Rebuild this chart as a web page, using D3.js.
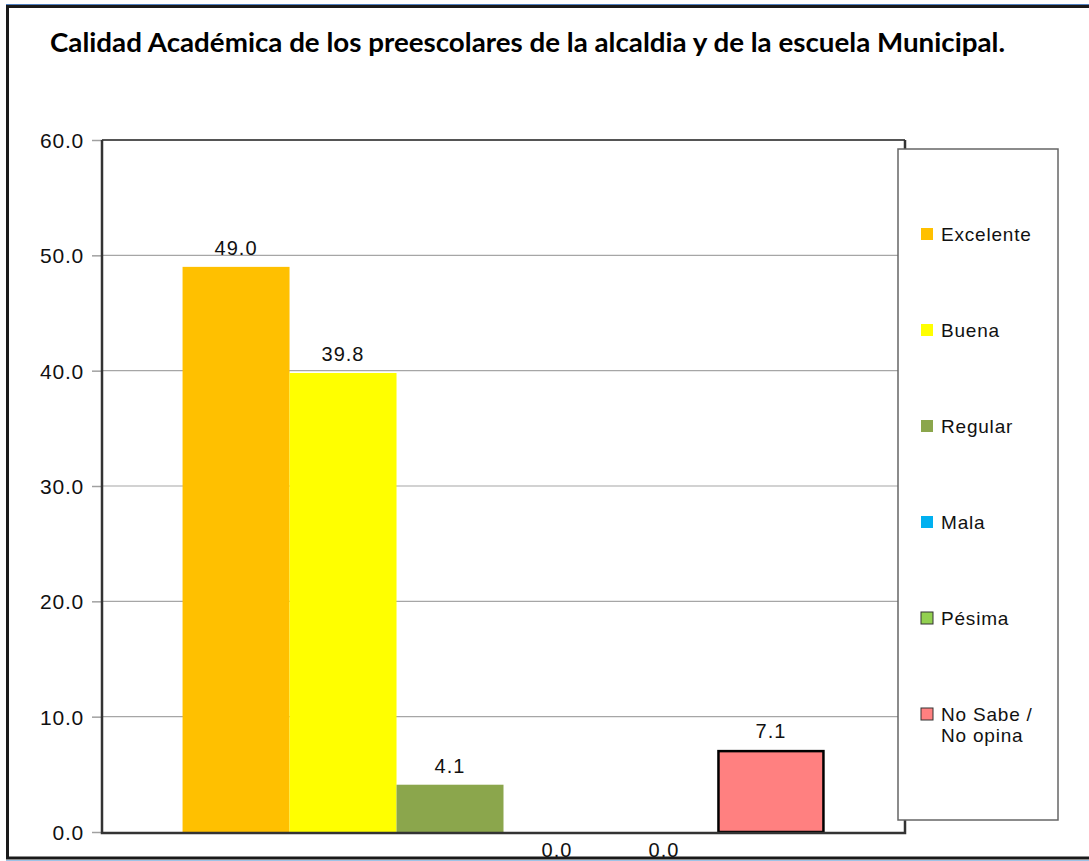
<!DOCTYPE html>
<html>
<head>
<meta charset="utf-8">
<script src="https://cdn.jsdelivr.net/npm/d3@7"></script>
<style>
  html, body { margin: 0; padding: 0; background: #fff; }
  svg { display: block; }
  .tick-label { font-family: "Liberation Sans", Arial, sans-serif; font-size: 21px; fill: #111; letter-spacing: 0.8px; }
  .value-label { font-family: "Liberation Sans", Arial, sans-serif; font-size: 20px; fill: #111; letter-spacing: 1px; }
  .legend-label { font-family: "Liberation Sans", Arial, sans-serif; font-size: 19px; fill: #111; letter-spacing: 0.8px; }
</style>
</head>
<body>
<svg id="chart" width="1089" height="861"></svg>
<script>
// Survey results: academic quality rating (percent of respondents)
const title = "Calidad Académica de los preescolares de la alcaldia y de la escuela Municipal.";
const categories = [""];
const seriesNames = ["Excelente", "Buena", "Regular", "Mala", "Pésima", "No Sabe / No opina"];
const legendLines = [["Excelente"], ["Buena"], ["Regular"], ["Mala"], ["Pésima"], ["No Sabe /", "No opina"]];
const seriesValues = [49.0, 39.8, 4.1, 0.0, 0.0, 7.1];
const seriesColors = ["#FFC000", "#FFFF00", "#8BA64C", "#00B0F0", "#92D050", "#FF8080"];
const seriesOutlined = [false, false, false, false, true, true];
const yTicks = [0, 10, 20, 30, 40, 50, 60];

const svg = d3.select("#chart");

const plot = { left: 102, right: 905, top: 140, bottom: 832 };

const y = d3.scaleLinear().domain([0, 60]).range([plot.bottom, plot.top]);
const x0 = d3.scaleBand().domain(categories)
  .range([plot.left, plot.right]).paddingOuter(0.1255);
const x1 = d3.scaleBand().domain(seriesNames).range([0, x0.bandwidth()]);

// gridlines
svg.append("g")
  .selectAll("line").data(yTicks.slice(1)).join("line")
  .attr("x1", plot.left).attr("x2", plot.right)
  .attr("y1", d => y(d)).attr("y2", d => y(d))
  .attr("stroke", "#a6a6a6").attr("stroke-width", 1.2);

// y axis
const yAxis = d3.axisLeft(y).tickValues(yTicks).tickFormat(d3.format(".1f"))
  .tickSize(10).tickPadding(8);
const ya = svg.append("g").attr("transform", `translate(${plot.left},0)`).call(yAxis);
ya.select(".domain").remove();
ya.selectAll(".tick line").attr("stroke", "#a0a0a0").attr("stroke-width", 1.5);
ya.selectAll(".tick text").attr("class", "tick-label").attr("font-size", null)
  .attr("font-family", null).attr("dy", "0.36em");

// bars
const group = svg.append("g").selectAll("g").data(categories).join("g")
  .attr("transform", d => `translate(${x0(d)},0)`);

const rows = seriesNames.map((name, i) => ({
  name, value: seriesValues[i], color: seriesColors[i], outlined: seriesOutlined[i]
}));

group.selectAll("rect").data(rows).join("rect")
  .attr("x", d => x1(d.name) + (d.outlined ? 1 : 0))
  .attr("width", d => x1.bandwidth() - (d.outlined ? 2 : 0))
  .attr("y", d => y(d.value) + (d.outlined && d.value > 0 ? 1 : 0))
  .attr("height", d => Math.max(0, plot.bottom - y(d.value) - (d.outlined && d.value > 0 ? 1 : 0)))
  .attr("fill", d => d.color)
  .attr("stroke", d => d.outlined && d.value > 0 ? "#000" : "none")
  .attr("stroke-width", 2.5);

// plot frame
svg.append("path")
  .attr("d", `M${plot.left},${plot.top}H${plot.right}`)
  .attr("stroke", "#555").attr("stroke-width", 2).attr("fill", "none");
svg.append("path")
  .attr("d", `M${plot.left},${plot.top}V${plot.bottom + 1}H${plot.right}V${plot.top}`)
  .attr("stroke", "#333").attr("stroke-width", 2.5).attr("fill", "none");

// value labels; zero values sit below the axis
group.selectAll("text").data(rows).join("text")
  .attr("class", "value-label")
  .attr("text-anchor", "middle")
  .attr("x", d => x1(d.name) + x1.bandwidth() / 2)
  .attr("y", d => d.value > 0 ? y(d.value) - 12 : plot.bottom + 25)
  .text(d => d3.format(".1f")(d.value));

// legend
const legend = { x: 898, y: 149, w: 160, h: 671, first: 234, step: 96 };
svg.append("rect")
  .attr("x", legend.x).attr("y", legend.y).attr("width", legend.w).attr("height", legend.h)
  .attr("fill", "#fff").attr("stroke", "#666").attr("stroke-width", 1.5);

const items = svg.append("g").selectAll("g").data(rows).join("g")
  .attr("transform", (d, i) => `translate(${legend.x + 23},${legend.first + i * legend.step})`);
items.append("rect")
  .attr("x", 0).attr("y", -6).attr("width", 12).attr("height", 12)
  .attr("fill", d => d.color)
  .attr("stroke", d => d.outlined ? "#333" : "none").attr("stroke-width", 1);
items.append("text").attr("class", "legend-label")
  .attr("x", 20).attr("y", 7)
  .selectAll("tspan").data((d, i) => legendLines[i]).join("tspan")
  .attr("x", 20).attr("dy", (d, j) => j === 0 ? 0 : 21)
  .text(d => d);

// title
svg.append("text")
  .attr("x", 50).attr("y", 52)
  .attr("font-family", "Lato, 'Open Sans', sans-serif")
  .attr("font-weight", "bold").attr("font-size", 27)
  .attr("fill", "#000")
  .attr("textLength", 955).attr("lengthAdjust", "spacingAndGlyphs")
  .text(title);

// outer frame
svg.append("line").attr("x1", 6).attr("x2", 1089).attr("y1", 4.5).attr("y2", 4.5)
  .attr("stroke", "#4f7fbf").attr("stroke-width", 1);
svg.append("line").attr("x1", 6).attr("x2", 1089).attr("y1", 860.5).attr("y2", 860.5)
  .attr("stroke", "#9dc3e6").attr("stroke-width", 1);
svg.append("path")
  .attr("d", "M1089,6.5H7.5V858H1089")
  .attr("stroke", "#1a1a1a").attr("stroke-width", 3).attr("fill", "none");
</script>
</body>
</html>
